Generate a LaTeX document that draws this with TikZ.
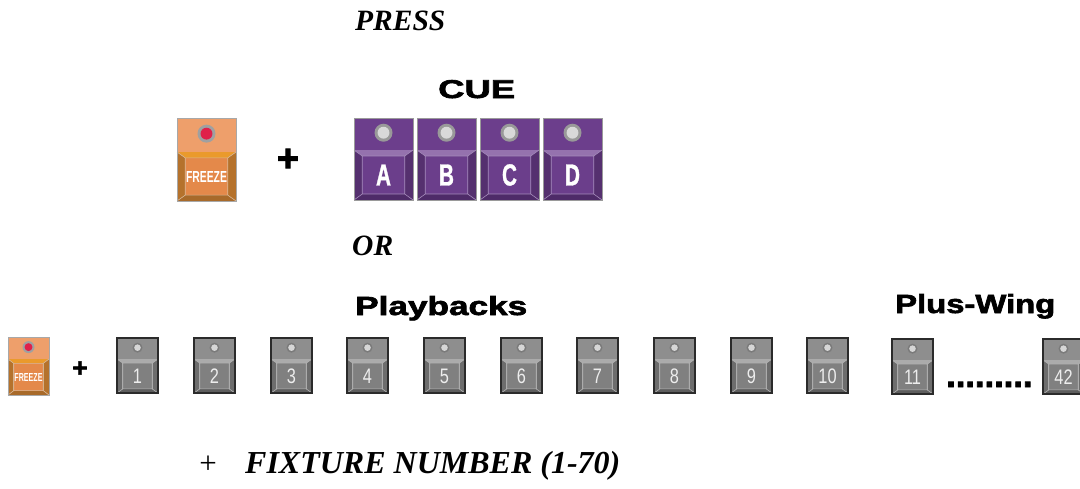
\documentclass[tikz,border=0pt]{standalone}
\usepackage{fontspec}
\setmainfont{Liberation Serif}
\newfontfamily\headfont{Liberation Sans}
\newfontfamily\blackfont[FakeBold=2.2]{Liberation Sans}
\newfontfamily\keyfont[FakeStretch=0.68,FakeBold=1]{Liberation Sans}
\newfontfamily\numfont[FakeStretch=0.78]{Liberation Sans}

% orange FREEZE key
\definecolor{frTop}{HTML}{EE9F6B}
\definecolor{frBand}{HTML}{EA9A2C}
\definecolor{frSide}{HTML}{B5722C}
\definecolor{frBot}{HTML}{A86A2A}
\definecolor{frFace}{HTML}{E4894A}
\definecolor{frLine}{HTML}{D8B898}
\definecolor{frEdge}{HTML}{A8A8A8}
\definecolor{frRing}{HTML}{A0A0A0}
\definecolor{frLed}{HTML}{E0204A}
% purple cue keys
\definecolor{cuTop}{HTML}{6C3E8C}
\definecolor{cuBand}{HTML}{9572AE}
\definecolor{cuSide}{HTML}{55306F}
\definecolor{cuBot}{HTML}{4E2B68}
\definecolor{cuFace}{HTML}{6B3E8B}
\definecolor{cuLine}{HTML}{A58BBB}
\definecolor{cuEdge}{HTML}{9A9A9A}
\definecolor{cuRing}{HTML}{999999}
\definecolor{cuLed}{HTML}{D9D9D9}
% grey playback keys
\definecolor{pbTop}{HTML}{8E8E8E}
\definecolor{pbBand}{HTML}{ABABAB}
\definecolor{pbSide}{HTML}{6D6D6D}
\definecolor{pbBot}{HTML}{5E5E5E}
\definecolor{pbFace}{HTML}{808080}
\definecolor{pbLine}{HTML}{B4B4B4}
\definecolor{pbEdge}{HTML}{2B2B2B}
\definecolor{pbRing}{HTML}{7A7A7A}
\definecolor{pbLed}{HTML}{D6D6D6}

\tikzset{
  heading/.style={anchor=base west, inner sep=0, font=\bfseries\itshape\fontsize{29.5}{34}\selectfont},
  plussign/.style={inner sep=0},
  keylabel/.style={inner sep=0, text=white},
  frEdgeLw/.style={line width=0.8pt},
  cuEdgeLw/.style={line width=0.8pt},
  pbEdgeLw/.style={line width=1.3pt},
}

% #1 label name, #2 left, #3 top, #4 width, #5 height, #6 top panel height,
% #7 colour set, #8 lamp radius, #9 cap legend
\newcommand{\keybtn}[9]{%
\begin{scope}[shift={(#2,#3)}]
  \pgfmathsetmacro\kbW{#4}
  \pgfmathsetmacro\kbH{#5}
  \pgfmathsetmacro\kbS{#6}
  \pgfmathsetmacro\kbI{0.14*\kbW}
  \pgfmathsetmacro\kbT{\kbS+0.12*(\kbH-\kbS)}
  \pgfmathsetmacro\kbB{\kbH-0.12*(\kbH-\kbS)}
  \fill[#7Top] (0,0) rectangle (\kbW,\kbS);
  \fill[#7Band] (0,\kbS) -- (\kbW,\kbS) -- (\kbW-\kbI,\kbT) -- (\kbI,\kbT) -- cycle;
  \fill[#7Side] (0,\kbS) -- (\kbI,\kbT) -- (\kbI,\kbB) -- (0,\kbH) -- cycle;
  \fill[#7Side] (\kbW,\kbS) -- (\kbW-\kbI,\kbT) -- (\kbW-\kbI,\kbB) -- (\kbW,\kbH) -- cycle;
  \fill[#7Bot] (0,\kbH) -- (\kbI,\kbB) -- (\kbW-\kbI,\kbB) -- (\kbW,\kbH) -- cycle;
  \fill[#7Face] (\kbI,\kbT) rectangle (\kbW-\kbI,\kbB);
  \draw[#7Line, line width=0.6pt]
    (0,\kbS) -- (\kbI,\kbT) (\kbW,\kbS) -- (\kbW-\kbI,\kbT)
    (0,\kbH) -- (\kbI,\kbB) (\kbW,\kbH) -- (\kbW-\kbI,\kbB)
    (\kbI,\kbT) rectangle (\kbW-\kbI,\kbB);
  \fill[#7Ring] ({\kbW/2},{0.46*\kbS}) circle[radius=#8];
  \fill[#7Led] ({\kbW/2},{0.46*\kbS}) circle[radius={0.66*#8}];
  \draw[#7Edge, #7EdgeLw] (0,0) rectangle (\kbW,\kbH);
  \node[keylabel] (#1) at ({\kbW/2},{(\kbT+\kbB)/2}) {#9};
\end{scope}}

\newcommand{\cuelegend}[1]{\keyfont\bfseries\fontsize{30.5}{30.5}\selectfont #1}
\newcommand{\numlegend}[1]{\textcolor{white!93!black}{\numfont\fontsize{21}{21}\selectfont #1}}

\begin{document}
\begin{tikzpicture}[x=1pt, y=-1pt]
\useasboundingbox (0,0) rectangle (1080,488);

% headings
\node[heading] (press) at (355,30) {PRESS};
\node[inner sep=0, anchor=base west] (cue) at (438,98)
  {\resizebox{77pt}{18pt}{\blackfont\bfseries CUE}};
\node[heading] (or) at (352,255) {OR};
\node[inner sep=0, anchor=base west] (playbacks) at (355,315)
  {\resizebox{172pt}{19pt}{\blackfont\bfseries Playbacks}};
\node[inner sep=0, anchor=base west] (pluswing) at (895,313)
  {\resizebox{160pt}{19pt}{\blackfont\bfseries Plus-Wing}};

% FREEZE + cue keys
\keybtn{frzBig}{177}{118}{59}{83}{34}{fr}{9}
  {\resizebox{41pt}{11pt}{\headfont\bfseries FREEZE}}
\node[plussign, font=\blackfont\bfseries\fontsize{38}{38}\selectfont] (plusA) at (288,160) {+};
\keybtn{cueA}{354}{118}{59}{82}{32}{cu}{9}{\cuelegend{A}}
\keybtn{cueB}{417}{118}{59}{82}{32}{cu}{9}{\cuelegend{B}}
\keybtn{cueC}{480}{118}{59}{82}{32}{cu}{9}{\cuelegend{C}}
\keybtn{cueD}{543}{118}{59}{82}{32}{cu}{9}{\cuelegend{D}}

% FREEZE + playback keys
\keybtn{frzSmall}{8}{337}{41}{58}{22}{fr}{6}
  {\resizebox{28pt}{8pt}{\headfont\bfseries FREEZE}}
\node[plussign, font=\blackfont\bfseries\fontsize{26}{26}\selectfont] (plusB) at (80,369) {+};
\keybtn{pb1}{117}{338}{41}{55}{21}{pb}{5}{\numlegend{1}}
\keybtn{pb2}{194}{338}{41}{55}{21}{pb}{5}{\numlegend{2}}
\keybtn{pb3}{271}{338}{41}{55}{21}{pb}{5}{\numlegend{3}}
\keybtn{pb4}{347}{338}{41}{55}{21}{pb}{5}{\numlegend{4}}
\keybtn{pb5}{424}{338}{41}{55}{21}{pb}{5}{\numlegend{5}}
\keybtn{pb6}{501}{338}{41}{55}{21}{pb}{5}{\numlegend{6}}
\keybtn{pb7}{577}{338}{41}{55}{21}{pb}{5}{\numlegend{7}}
\keybtn{pb8}{654}{338}{41}{55}{21}{pb}{5}{\numlegend{8}}
\keybtn{pb9}{731}{338}{41}{55}{21}{pb}{5}{\numlegend{9}}
\keybtn{pb10}{807}{338}{41}{55}{21}{pb}{5}{\numlegend{10}}
\keybtn{pb11}{892}{339}{41}{55}{21}{pb}{5}{\numlegend{11}}
\node[inner sep=0, anchor=base west, font=\blackfont\bfseries\fontsize{34.5}{34.5}\selectfont] (dots) at (946,387) {.........};
\keybtn{pb42}{1043}{339}{41}{55}{21}{pb}{5}{\numlegend{42}}

% fixture number line
\node[inner sep=0, font=\fontsize{31}{31}\selectfont] (plusC) at (208,465) {+};
\node[inner sep=0, anchor=base west, font=\bfseries\itshape\fontsize{32}{36}\selectfont] (fixture) at (245,473) {FIXTURE NUMBER (1-70)};
\end{tikzpicture}
\end{document}
